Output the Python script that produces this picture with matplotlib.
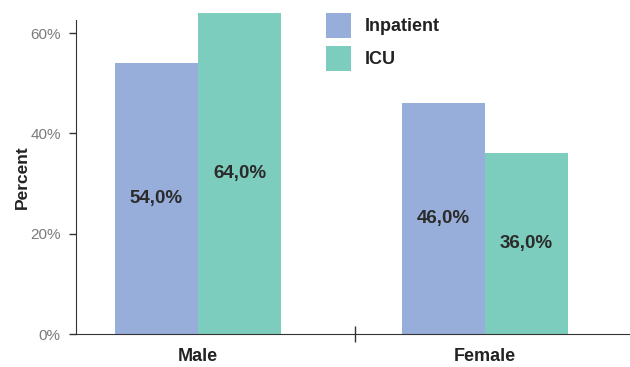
import matplotlib
matplotlib.use("Agg")
import matplotlib.pyplot as plt
import numpy as np

plt.rcParams['font.family'] = ['Liberation Sans', 'DejaVu Sans']

categories = ["Male", "Female"]
series_names = ["Inpatient", "ICU"]
inpatient = [54.0, 46.0]
icu = [64.0, 36.0]
yticks = [0, 20, 40, 60]

colors = ["#97AEDB", "#7CCDBD"]

fig = plt.figure(figsize=(6.3, 3.67), dpi=100)
ax = fig.add_axes([0.1206, 0.0899, 0.8794, 0.8556])

x = np.arange(len(categories))
w = 0.289
for vals, off, col, name in [(inpatient, -w / 2, colors[0], series_names[0]),
                             (icu, w / 2, colors[1], series_names[1])]:
    bars = ax.bar(x + off, vals, width=w, color=col, label=name, clip_on=False, zorder=2)
    for b, v in zip(bars, vals):
        ax.text(b.get_x() + b.get_width() / 2, v / 2, f"{v:.1f}%".replace(".", ","),
                ha="center", va="center", fontsize=13.5, fontweight="bold", color="#2b2b2b")

ax.set_xlim(-0.425, 1.505)
ax.set_ylim(0, 62.6)
ax.set_yticks(yticks)
ax.set_yticklabels([f"{t}%" for t in yticks], color="#7a7a7a", fontsize=11)
ax.tick_params(axis="y", length=5, width=1, color="#333333", pad=6)

ax.set_xticks(x)
ax.set_xticklabels(categories, fontsize=13, fontweight="bold", color="#222222")
ax.tick_params(axis="x", length=0, pad=10)
ax.set_xticks([0.547], minor=True)
ax.tick_params(axis="x", which="minor", direction="inout", length=12, width=1, color="#333333")

for s in ["top", "right"]:
    ax.spines[s].set_visible(False)
ax.spines["left"].set_color("#333333")
ax.spines["bottom"].set_color("#333333")

ax.set_ylabel("Percent", fontsize=12.5, fontweight="bold", color="#222222", labelpad=0)

leg = ax.legend(loc="upper left", bbox_to_anchor=(0.4226, 1.075), frameon=False,
                prop={"size": 13, "weight": "bold"}, handlelength=1.35, handleheight=1.75,
                handletextpad=0.75, labelspacing=0.45)
for t in leg.get_texts():
    t.set_color("#222222")

fig.savefig("out.png", dpi=100)
